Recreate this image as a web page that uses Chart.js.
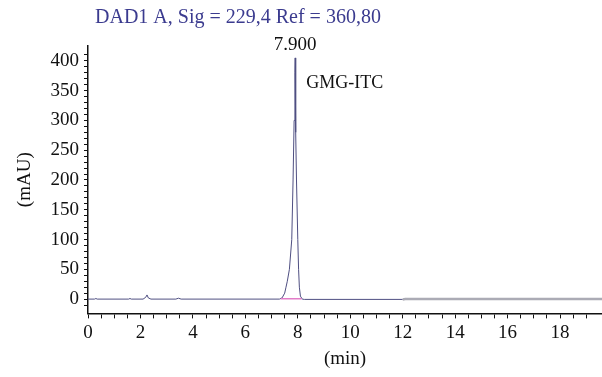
<!DOCTYPE html>
<html>
<head>
<meta charset="utf-8">
<script src="https://cdn.jsdelivr.net/npm/chart.js@4.4.1/dist/chart.umd.min.js"></script>
<style>
  html, body { margin: 0; padding: 0; background: #fff; }
  #wrap { width: 602px; height: 377px; }
</style>
</head>
<body>
<div id="wrap"><canvas id="chart" width="602" height="377"></canvas></div>
<script>
// Chromatogram trace (min, mAU)
const traceTime = [0, 0.25, 0.3, 0.35, 1.55, 1.6, 1.65, 2.1, 2.2, 2.25, 2.3, 2.4, 3.35, 3.45, 3.55,
    7.3, 7.4, 7.5, 7.55, 7.6, 7.68, 7.77, 7.82, 7.86, 7.89, 7.9, 7.91, 7.93, 7.95, 8.0, 8.03, 8.06, 8.1, 8.17, 8.25, 12.0];
const traceSignal = [0, 0, 1, 0, 0, 1, 0, 0, 3, 7, 2, 0, 0, 1.5, 0,
    0, 2, 10, 20, 30, 50, 100, 200, 300, 380, 405, 380, 280, 200, 100, 50, 20, 5, 0, -0.5, -0.5];
// tail after 12 min (lighter grey)
const tailTime = [12.0, 12.1, 19.6];
const tailSignal = [-0.5, 0, 0];
// integration baseline under the peak
const baseTime = [7.35, 8.15];
const baseSignal = [0.8, 0.8];

const peakTime = 7.9;
const peakHeight = 405;
const peakLabel = '7.900';
const compoundName = 'GMG-ITC';
const titleText = 'DAD1 A, Sig = 229,4 Ref = 360,80';

const serif = '"Liberation Serif", "DejaVu Serif", serif';
const toXY = (xs, ys) => xs.map((x, i) => ({ x, y: ys[i] }));

// annotations: header, retention time and compound name
const annotate = {
    id: 'annotate',
    afterDraw(chart) {
        const { ctx, scales: { x, y } } = chart;
        ctx.save();
        ctx.textBaseline = 'middle';
        ctx.font = '20px ' + serif;
        ctx.fillStyle = '#3b3b8f';
        ctx.textAlign = 'left';
        ctx.fillText(titleText, 95, 18);
        ctx.font = '19px ' + serif;
        ctx.fillStyle = '#111';
        ctx.textAlign = 'center';
        ctx.fillText(peakLabel, x.getPixelForValue(peakTime), y.getPixelForValue(peakHeight) - 13);
        ctx.font = '18px ' + serif;
        ctx.textAlign = 'left';
        ctx.fillText(compoundName, x.getPixelForValue(peakTime) + 11, y.getPixelForValue(peakHeight) + 25);
        ctx.restore();
    }
};

const onlyMultiples = step => scale => {
    scale.ticks = scale.ticks.filter(t => Math.abs(t.value / step - Math.round(t.value / step)) < 1e-6);
};

new Chart(document.getElementById('chart'), {
    type: 'line',
    data: {
        datasets: [
            { data: toXY(baseTime, baseSignal), borderColor: '#e27cc8', borderWidth: 1.5 },
            { data: toXY(tailTime, tailSignal), borderColor: '#ababb5', borderWidth: 2.5 },
            { data: toXY(traceTime, traceSignal), borderColor: '#4f4f82', borderWidth: 1 }
        ]
    },
    options: {
        responsive: false,
        animation: false,
        parsing: false,
        elements: { point: { radius: 0 }, line: { tension: 0 } },
        layout: { padding: { top: 46, right: 0, left: 0, bottom: 7 } },
        plugins: { legend: { display: false }, tooltip: { enabled: false }, title: { display: false } },
        scales: {
            x: {
                type: 'linear',
                min: 0,
                max: 19.6,
                afterBuildTicks: onlyMultiples(0.5),
                ticks: {
                    stepSize: 0.5,
                    autoSkip: false,
                    maxRotation: 0,
                    color: '#111',
                    font: { family: serif, size: 19 },
                    padding: 3,
                    callback: v => (Math.abs(v % 2) < 1e-6 ? String(v) : '')
                },
                grid: { drawOnChartArea: false, drawTicks: true, tickLength: 5, tickColor: '#111', tickWidth: 1 },
                border: { color: '#111', width: 1.5 },
                title: { display: true, text: '(min)', color: '#111', font: { family: serif, size: 19 }, padding: { top: 0, bottom: 0 } }
            },
            y: {
                min: -24,
                max: 425,
                afterBuildTicks: onlyMultiples(10),
                afterFit: scale => { scale.width = 88; },
                ticks: {
                    stepSize: 10,
                    autoSkip: false,
                    color: '#111',
                    font: { family: serif, size: 19 },
                    padding: 5,
                    callback: v => (v % 50 === 0 ? String(v) : '')
                },
                grid: { drawOnChartArea: false, drawTicks: true, tickLength: 4, tickColor: '#111', tickWidth: 1 },
                border: { color: '#111', width: 1.5 },
                title: { display: true, text: '(mAU)', color: '#111', font: { family: serif, size: 19 }, padding: { top: 14, bottom: 0 } }
            }
        }
    },
    plugins: [annotate]
});
</script>
</body>
</html>
